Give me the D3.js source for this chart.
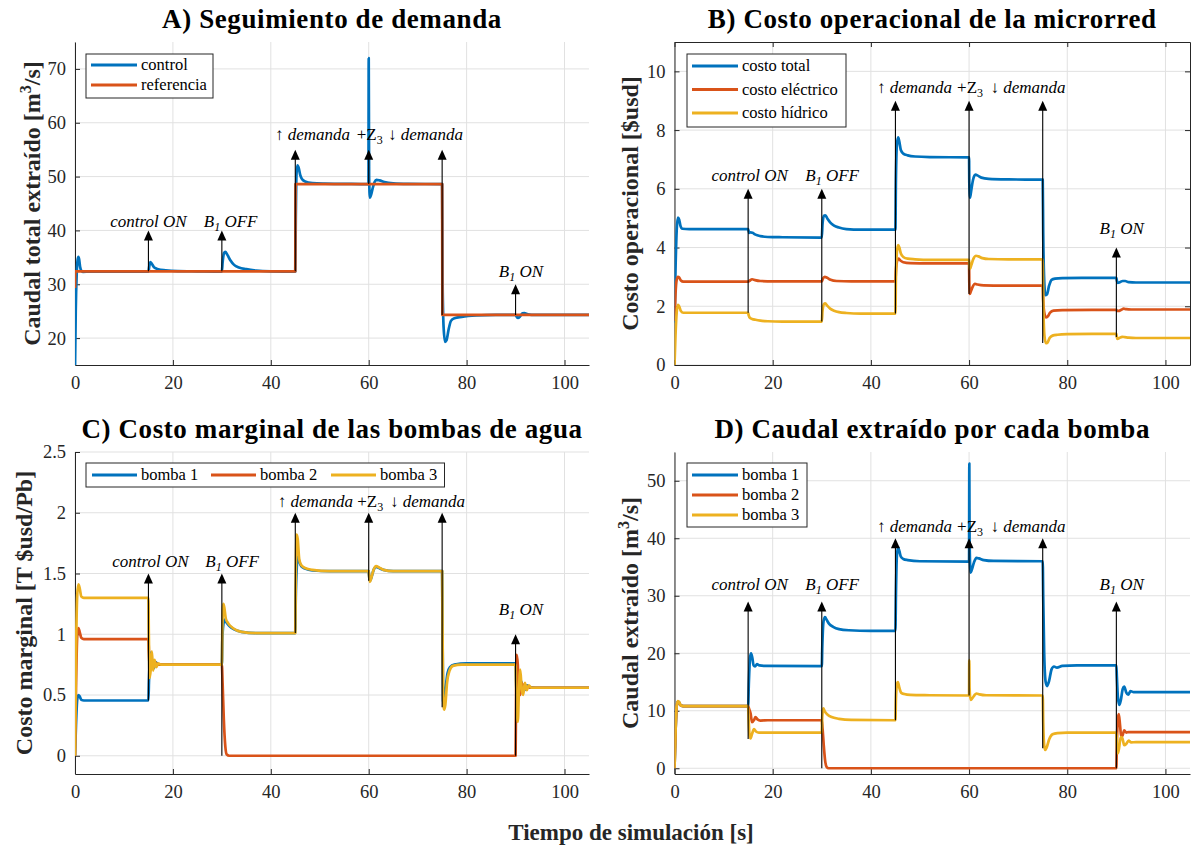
<!DOCTYPE html>
<html>
<head>
<meta charset="utf-8">
<script src="https://cdn.jsdelivr.net/npm/d3@7"></script>
<style>
  body { margin: 0; background: #fff; }
  svg { display: block; }
</style>
</head>
<body>
<svg id="fig" width="1195" height="849"></svg>
<script>
// ---------------- Data ----------------
// time axis ticks (s)
const timeTicks = [0, 20, 40, 60, 80, 100];

// A) total extracted flow [m3/s]  -> [t, value]
const demandaControl = [
  [0,14],[0.15,25],[0.35,32],[0.55,34.6],[0.7,35.1],[0.85,34.6],[1.05,33.2],[1.3,32.5],[1.6,32.3],[3,32.35],
  [15,32.35],[15.15,33.2],[15.4,34.1],[15.7,33.8],[16.2,33.1],[17,32.8],[18.5,32.6],[21,32.45],[25,32.4],
  [30,32.35],[30.15,34],[30.45,35.8],[30.7,36],[31.1,35.5],[31.7,34.5],[32.5,33.6],[33.5,33.1],[35,32.8],[37,32.55],[40,32.4],
  [45,32.35],[45.1,42],[45.25,50.5],[45.45,52.1],[45.7,51.6],[46,50.3],[46.4,49.5],[47,49.1],[48.5,48.8],[51,48.7],[55,48.65],
  [59.95,48.6],[60,72],[60.08,50],[60.25,46.1],[60.45,46.5],[60.8,47.8],[61.2,49],[61.6,49.4],[62.2,49.3],[63.2,49.0],[65,48.75],[68,48.65],
  [75,48.6],[75.1,30],[75.3,22],[75.6,19.3],[75.9,19.6],[76.3,21.5],[76.8,23.2],[77.5,23.7],[79,23.95],[82,24.2],[86,24.3],
  [90,24.3],[90.2,24],[90.5,23.75],[90.9,24.0],[91.4,24.6],[91.8,24.65],[92.5,24.4],[94,24.3],[105,24.3]
];
const demandaReferencia = [
  [0,29.3],[0.05,32.4],[45,32.4],[45.05,48.6],[75,48.6],[75.05,24.3],[105,24.3]
];

// B) operational cost [$usd]
const costoTotal = [
  [0,1.45],[0.2,3.2],[0.45,4.6],[0.7,5.02],[0.95,4.95],[1.2,4.75],[1.6,4.64],[3,4.63],
  [15,4.63],[15.2,4.5],[15.5,4.52],[15.9,4.5],[16.5,4.44],[17.5,4.39],[19,4.36],[22,4.35],
  [30,4.34],[30.15,4.8],[30.45,5.08],[30.7,5.1],[31.1,5.0],[31.7,4.86],[32.5,4.75],[33.5,4.68],[35,4.63],[38,4.61],
  [45,4.61],[45.1,6.3],[45.3,7.5],[45.55,7.75],[45.8,7.6],[46.1,7.32],[46.6,7.2],[47.5,7.14],[49,7.1],[52,7.08],
  [60,7.07],[60.05,6.2],[60.2,5.7],[60.4,5.9],[60.8,6.3],[61.3,6.48],[61.8,6.45],[62.5,6.38],[64,6.34],[68,6.32],
  [75,6.31],[75.1,4.5],[75.3,2.9],[75.55,2.38],[75.85,2.4],[76.3,2.7],[76.8,2.9],[77.5,2.94],[79,2.96],[83,2.97],
  [90,2.97],[90.1,2.88],[90.3,2.8],[90.7,2.82],[91.3,2.86],[91.8,2.86],[92.5,2.82],[94,2.81],[105,2.81]
];
const costoElectrico = [
  [0,1.5],[0.2,2.4],[0.45,2.9],[0.7,3.0],[0.95,2.98],[1.3,2.88],[1.8,2.84],[3,2.84],
  [15,2.84],[15.3,2.87],[15.8,2.92],[16.4,2.89],[17.5,2.86],[20,2.85],
  [30,2.85],[30.2,2.93],[30.6,3.0],[31.1,2.97],[31.8,2.9],[33,2.86],[36,2.85],
  [45,2.85],[45.1,3.2],[45.35,3.55],[45.6,3.62],[46,3.56],[46.6,3.5],[48,3.47],[52,3.46],
  [60,3.46],[60.05,2.8],[60.15,2.42],[60.35,2.5],[60.7,2.65],[61.2,2.76],[61.7,2.74],[63,2.71],[67,2.7],
  [75,2.7],[75.1,2.2],[75.35,1.75],[75.65,1.62],[76,1.65],[76.5,1.78],[77.2,1.85],[79,1.87],[85,1.88],
  [90,1.88],[90.15,1.84],[90.4,1.84],[91,1.88],[91.5,1.92],[92,1.9],[93,1.89],[105,1.89]
];
const costoHidrico = [
  [0,0],[0.2,1.0],[0.45,1.8],[0.7,2.05],[0.95,2.0],[1.3,1.84],[1.8,1.78],[3,1.78],
  [15,1.78],[15.1,1.7],[15.4,1.6],[15.8,1.57],[16.5,1.54],[17.5,1.51],[19,1.49],[22,1.48],
  [30,1.48],[30.15,1.85],[30.45,2.08],[30.7,2.1],[31.1,2.02],[31.7,1.92],[32.5,1.85],[33.5,1.8],[35,1.77],[38,1.75],
  [45,1.75],[45.1,3.0],[45.3,3.85],[45.55,4.08],[45.8,4.0],[46.1,3.8],[46.6,3.68],[47.5,3.62],[49,3.6],[52,3.58],
  [60,3.58],[60.05,3.4],[60.2,3.27],[60.45,3.4],[60.9,3.62],[61.4,3.72],[61.9,3.7],[62.7,3.64],[64,3.61],[68,3.6],
  [75,3.6],[75.1,2.2],[75.35,1.0],[75.65,0.74],[75.95,0.76],[76.4,0.92],[77,1.0],[78,1.03],[80,1.05],[85,1.06],
  [90,1.06],[90.1,0.95],[90.25,0.89],[90.6,0.92],[91.2,0.96],[91.7,0.95],[92.5,0.93],[94,0.92],[105,0.92]
];

// C) marginal cost of the water pumps [T $usd/Pb]
const marginalBomba1 = [
  [0,0],[0.2,0.25],[0.45,0.46],[0.7,0.5],[0.95,0.49],[1.3,0.46],[1.8,0.455],[3,0.455],
  [15,0.455],[15.1,0.6],[15.3,0.8],[15.5,0.85],[15.75,0.78],[16.1,0.72],[16.5,0.77],[17,0.75],[18,0.75],
  [30,0.75],[30.1,0.95],[30.3,1.08],[30.55,1.12],[30.9,1.1],[31.5,1.07],[32.5,1.04],[34,1.02],[37,1.01],
  [45,1.01],[45.1,1.3],[45.3,1.55],[45.5,1.64],[45.8,1.6],[46.2,1.56],[47,1.54],[48.5,1.525],[52,1.52],
  [60,1.52],[60.05,1.49],[60.25,1.44],[60.5,1.46],[61,1.53],[61.5,1.555],[62.1,1.545],[63,1.53],[65,1.52],
  [75,1.52],[75.05,1.2],[75.2,0.45],[75.4,0.43],[75.7,0.55],[76.1,0.68],[76.6,0.73],[77.5,0.75],[80,0.76],
  [90,0.76],[90.1,0.62],[90.35,0.45],[90.65,0.52],[91,0.62],[91.4,0.58],[91.8,0.54],[92.3,0.58],[92.8,0.565],[94,0.56],[105,0.56]
];
const marginalBomba2 = [
  [0,0],[0.2,0.55],[0.45,0.98],[0.7,1.05],[0.95,1.02],[1.3,0.97],[1.8,0.96],[3,0.96],
  [15,0.96],[15.1,0.85],[15.3,0.72],[15.55,0.8],[15.9,0.74],[16.4,0.765],[17,0.75],[18,0.75],
  [30,0.75],[30.15,0.6],[30.4,0.3],[30.7,0.08],[31.0,0.01],[31.5,0],
  [90,0],[90.1,0.5],[90.25,0.83],[90.45,0.75],[90.7,0.5],[90.95,0.5],[91.2,0.6],[91.5,0.58],[91.9,0.55],[92.4,0.57],[93,0.56],[105,0.56]
];
const marginalBomba3 = [
  [0,0],[0.2,0.8],[0.45,1.32],[0.7,1.41],[0.95,1.38],[1.3,1.31],[1.8,1.3],[3,1.3],
  [15,1.3],[15.08,1.0],[15.25,0.64],[15.45,0.7],[15.7,0.86],[15.95,0.7],[16.25,0.79],[16.6,0.73],[17,0.76],[17.6,0.75],
  [30,0.75],[30.1,1.05],[30.3,1.25],[30.5,1.22],[30.8,1.13],[31.3,1.09],[32.3,1.05],[34,1.02],[37,1.01],
  [45,1.01],[45.1,1.5],[45.3,1.82],[45.5,1.78],[45.8,1.62],[46.2,1.57],[47,1.545],[48.5,1.53],[52,1.52],
  [60,1.52],[60.05,1.49],[60.25,1.43],[60.5,1.46],[61,1.53],[61.5,1.56],[62.1,1.55],[63,1.53],[65,1.52],
  [75,1.52],[75.05,1.2],[75.2,0.5],[75.4,0.38],[75.65,0.42],[76,0.6],[76.5,0.7],[77.2,0.74],[79,0.75],
  [90,0.75],[90.1,0.6],[90.25,0.4],[90.45,0.28],[90.7,0.55],[90.95,0.71],[91.25,0.55],[91.55,0.5],[91.9,0.6],[92.3,0.54],[92.7,0.58],[93.2,0.56],[105,0.56]
];

// D) flow extracted by each pump [m3/s]
const caudalBomba1 = [
  [0,0],[0.2,6],[0.45,10.8],[0.7,11.6],[0.95,11.4],[1.3,10.9],[1.8,10.8],[3,10.8],
  [15,10.8],[15.15,15],[15.4,19.3],[15.6,20.0],[15.85,19.2],[16.1,17.9],[16.4,17.7],[16.8,18.1],[17.3,17.9],[18.5,17.8],
  [30,17.75],[30.1,21],[30.35,25.5],[30.65,26.3],[31,25.8],[31.5,25.1],[32.3,24.6],[33.5,24.2],[35.5,24],[40,23.9],
  [45,23.9],[45.1,30],[45.3,37],[45.55,38.4],[45.8,37.8],[46.1,36.8],[46.6,36.4],[47.5,36.2],[50,36.0],
  [60,35.95],[60.05,53],[60.1,40],[60.3,34.0],[60.55,34.5],[61,35.8],[61.5,36.6],[62,36.5],[63,36.2],[65,36.05],
  [75,36],[75.1,30],[75.3,20],[75.6,15],[75.9,14.3],[76.3,15.2],[76.8,17.2],[77.3,17.7],[77.9,17.5],[79,17.8],[82,17.9],
  [90,17.9],[90.1,16],[90.3,12.5],[90.6,11],[90.9,11.8],[91.3,13.8],[91.6,14.2],[92.0,13.2],[92.4,12.8],[92.9,13.4],[93.5,13.25],[105,13.25]
];
const caudalBomba2 = [
  [0,0],[0.2,6],[0.45,10.8],[0.7,11.6],[0.95,11.4],[1.3,10.9],[1.8,10.8],[3,10.8],
  [15,10.8],[15.2,10.3],[15.5,9.5],[15.8,8.0],[16.2,8.4],[16.5,8.9],[16.9,8.5],[17.5,8.3],[19,8.35],
  [30,8.35],[30.15,7],[30.4,4],[30.7,1.2],[31,0.2],[31.4,0],
  [90,0],[90.1,4],[90.3,8.5],[90.5,9.4],[90.75,7.5],[91.0,5.4],[91.3,5.8],[91.6,6.6],[92,6.2],[92.5,6.3],[93.5,6.3],[105,6.3]
];
const caudalBomba3 = [
  [0,0],[0.2,6],[0.45,10.9],[0.7,11.7],[0.95,11.5],[1.3,10.9],[1.8,10.8],[3,10.8],
  [15,10.8],[15.1,8.5],[15.3,5.6],[15.5,5.2],[15.8,6],[16.2,6.8],[16.6,6.4],[17.2,6.2],[18.5,6.2],
  [30,6.2],[30.1,9.0],[30.3,10.4],[30.6,9.9],[31.2,9.3],[32,8.9],[33.5,8.6],[36,8.4],
  [45,8.35],[45.1,12],[45.3,14.6],[45.5,15.0],[45.8,14.0],[46.2,13.1],[46.8,12.9],[48,12.75],[52,12.7],
  [60,12.65],[60.04,18.8],[60.1,14],[60.3,11.9],[60.6,12.1],[61.1,12.7],[61.5,13.0],[62.1,12.85],[63.5,12.7],
  [75,12.65],[75.1,8],[75.3,4],[75.5,3.2],[75.8,3.6],[76.3,5.0],[77,5.9],[78,6.1],[80,6.2],
  [90,6.2],[90.1,4.5],[90.3,2.6],[90.55,3.5],[90.9,5.4],[91.2,5.3],[91.6,4.0],[92,4.2],[92.5,4.8],[93,4.5],[94,4.55],[105,4.55]
];

// y-axis ticks per panel
const ticksA = [20, 30, 40, 50, 60, 70];
const ticksB = [0, 2, 4, 6, 8, 10];
const ticksC = [0, 0.5, 1, 1.5, 2, 2.5];
const ticksD = [0, 10, 20, 30, 40, 50];

// event annotations: [kind, time, arrow tail value, arrow tip value, label x, label y]
const eventosA = [
  ["control", 15, 32.4, 40, 15.0, 40.7],
  ["b1off",   30, 32.4, 40, 31.8, 40.7],
  ["up",      45, 32.4, 55, 48.5, 56.8],
  ["z3",      60, 48.6, 55, 60.2, 56.8],
  ["down",    75, 24.3, 55, 71.6, 56.8],
  ["b1on",    90, 24.3, 30, 91.1, 31.4]
];
const eventosB = [
  ["control", 15, 1.78, 6, 15.3, 6.28],
  ["b1off",   30, 1.48, 6, 32.1, 6.28],
  ["up",      45, 1.75, 9, 48.9, 9.28],
  ["z3",      60, 2.42, 9, 60.2, 9.28],
  ["down",    75, 0.75, 9, 72.0, 9.28],
  ["b1on",    90, 0.95, 4, 91.1, 4.46]
];
const eventosC = [
  ["control", 15, 0.455, 1.5, 15.4, 1.557],
  ["b1off",   30, 0,     1.5, 32.1, 1.557],
  ["up",      45, 1.01,  2.0, 49.1, 2.05],
  ["z3",      60, 1.44,  2.0, 60.3, 2.05],
  ["down",    75, 0.4,   2.0, 72.0, 2.05],
  ["b1on",    90, 0,     1.0, 91.1, 1.16]
];
const eventosD = [
  ["control", 15, 5.1,  29, 15.3, 31.0],
  ["b1off",   30, 0,    29, 32.1, 31.0],
  ["up",      45, 8.35, 40, 48.9, 41.1],
  ["z3",      60, 12.65,40, 60.2, 41.1],
  ["down",    75, 3.5,  40, 72.0, 41.1],
  ["b1on",    90, 0,    29, 91.1, 31.0]
];

// ---------------- Styling ----------------
const BLUE = "#0072BD", RED = "#D95319", YELLOW = "#EDB120";
const AXC = "#262626", GRID = "#e1e1e1";
const SERIF = "'Liberation Serif', 'DejaVu Serif', serif";

const svg = d3.select("#fig");
svg.append("rect").attr("width", 1195).attr("height", 849).attr("fill", "#fff");

const panels = [
  {
    key: "A", left: 75, right: 589, top: 42, bottom: 365,
    yDomain: [15, 75], yTicks: ticksA, box: false,
    title: "A) Seguimiento de demanda", ylabel: ["Caudal total extraído [m", "3", "/s]"], ylabelX: 40,
    series: [{ d: demandaControl, c: BLUE, n: "control" }, { d: demandaReferencia, c: RED, n: "referencia", linear: true }],
    eventos: eventosA,
    legend: { x: 86, y: 54, w: 127, rows: [65, 85], h: 44 }
  },
  {
    key: "B", left: 674.5, right: 1190, top: 42, bottom: 365,
    yDomain: [0, 11], yTicks: ticksB, box: true,
    title: "B) Costo operacional de la microrred", ylabel: ["Costo operacional [$usd]"], ylabelX: 638,
    series: [{ d: costoTotal, c: BLUE, n: "costo total" }, { d: costoElectrico, c: RED, n: "costo eléctrico" }, { d: costoHidrico, c: YELLOW, n: "costo hídrico" }],
    eventos: eventosB,
    legend: { x: 687, y: 54, w: 159, rows: [66, 89.5, 113], h: 73 }
  },
  {
    key: "C", left: 75, right: 589, top: 452, bottom: 774,
    yDomain: [-0.15, 2.5], yTicks: ticksC, box: false,
    title: "C) Costo marginal de las bombas de agua", ylabel: ["Costo marginal [T $usd/Pb]"], ylabelX: 32,
    series: [{ d: marginalBomba1, c: BLUE, n: "bomba 1" }, { d: marginalBomba2, c: RED, n: "bomba 2" }, { d: marginalBomba3, c: YELLOW, n: "bomba 3" }],
    eventos: eventosC,
    legendH: { x: 86, y: 463, w: 358.5, h: 24, cols: [92, 211, 331] }
  },
  {
    key: "D", left: 674.5, right: 1190, top: 452, bottom: 774,
    yDomain: [-1, 55], yTicks: ticksD, box: false,
    title: "D) Caudal extraído por cada bomba", ylabel: ["Caudal extraído [m", "3", "/s]"], ylabelX: 638,
    series: [{ d: caudalBomba1, c: BLUE, n: "bomba 1" }, { d: caudalBomba2, c: RED, n: "bomba 2" }, { d: caudalBomba3, c: YELLOW, n: "bomba 3" }],
    eventos: eventosD,
    legend: { x: 687, y: 463, w: 120, rows: [475, 495, 515], h: 64 }
  }
];

// rich-text event labels
function drawLabel(g, kind, x, y) {
  const t = g.append("text").attr("x", x).attr("y", y).attr("text-anchor", "middle")
    .attr("font-family", SERIF).attr("font-size", 17).attr("fill", "#000");
  const it = (s) => t.append("tspan").attr("font-style", "italic").text(s);
  const rm = (s) => t.append("tspan").text(s);
  const sub = (s) => t.append("tspan").attr("font-size", 12).attr("dy", 4).attr("font-style", "italic").text(s);
  if (kind === "control") { it("control ON"); }
  else if (kind === "b1off") { it("B"); sub("1"); t.append("tspan").attr("dy", -4).attr("font-style", "italic").text("\u00a0OFF"); }
  else if (kind === "b1on") { it("B"); sub("1"); t.append("tspan").attr("dy", -4).attr("font-style", "italic").text("\u00a0ON"); }
  else if (kind === "up") { rm("\u2191 "); it("demanda"); }
  else if (kind === "down") { rm("\u2193 "); it("demanda"); }
  else if (kind === "z3") { rm("+Z"); t.append("tspan").attr("font-size", 12).attr("dy", 4).text("3"); }
}

panels.forEach(p => {
  const x = d3.scaleLinear().domain([0, 105]).range([p.left, p.right]);
  const y = d3.scaleLinear().domain(p.yDomain).range([p.bottom, p.top]);
  const g = svg.append("g");

  // grid
  g.append("g").selectAll("line").data(timeTicks).join("line")
    .attr("x1", d => x(d)).attr("x2", d => x(d)).attr("y1", p.top).attr("y2", p.bottom)
    .attr("stroke", GRID).attr("stroke-width", 1);
  g.append("g").selectAll("line").data(p.yTicks).join("line")
    .attr("x1", p.left).attr("x2", p.right).attr("y1", d => y(d)).attr("y2", d => y(d))
    .attr("stroke", GRID).attr("stroke-width", 1);

  // axes (inward ticks)
  const xAxis = d3.axisBottom(x).tickValues(timeTicks).tickSizeInner(-5).tickSizeOuter(0).tickPadding(11);
  const yAxis = d3.axisLeft(y).tickValues(p.yTicks).tickSizeInner(-5).tickSizeOuter(0).tickPadding(9)
    .tickFormat(d => String(d));
  const gx = g.append("g").attr("transform", `translate(0,${p.bottom})`).call(xAxis);
  const gy = g.append("g").attr("transform", `translate(${p.left},0)`).call(yAxis);
  [gx, gy].forEach(a => {
    a.select(".domain").attr("stroke", AXC).attr("stroke-width", 1);
    a.selectAll(".tick line").attr("stroke", AXC);
    a.selectAll(".tick text").attr("font-family", SERIF).attr("font-size", 18.5).attr("fill", AXC);
  });
  gx.selectAll(".tick text").attr("dy", "0.71em");
  if (p.box) {
    const gt = g.append("g").attr("transform", `translate(0,${p.top})`)
      .call(d3.axisTop(x).tickValues(timeTicks).tickSizeInner(-5).tickSizeOuter(0).tickFormat(""));
    const gr = g.append("g").attr("transform", `translate(${p.right},0)`)
      .call(d3.axisRight(y).tickValues(p.yTicks).tickSizeInner(-5).tickSizeOuter(0).tickFormat(""));
    [gt, gr].forEach(a => { a.select(".domain").attr("stroke", AXC); a.selectAll(".tick line").attr("stroke", AXC); });
  }

  // series
  const clipId = "clip" + p.key;
  svg.append("clipPath").attr("id", clipId).append("rect")
    .attr("x", p.left).attr("y", p.top).attr("width", p.right - p.left).attr("height", p.bottom - p.top);
  const lines = g.append("g").attr("clip-path", `url(#${clipId})`);
  p.series.forEach(s => {
    const gen = d3.line().x(d => x(d[0])).y(d => y(d[1]))
      .curve(s.linear ? d3.curveLinear : d3.curveMonotoneX);
    lines.append("path").attr("d", gen(s.d)).attr("fill", "none").attr("stroke", s.c)
      .attr("stroke-width", 2.7).attr("stroke-linejoin", "round").attr("stroke-linecap", "butt");
  });

  // event arrows
  const ev = g.append("g");
  p.eventos.forEach(([kind, t, from, to, lx, ly]) => {
    const px = x(t), yTip = y(to), yTail = y(from);
    ev.append("line").attr("x1", px).attr("x2", px).attr("y1", yTail).attr("y2", yTip + 8)
      .attr("stroke", "#000").attr("stroke-width", 1.1);
    ev.append("path").attr("d", `M${px},${yTip} L${px - 4.5},${yTip + 10} L${px + 4.5},${yTip + 10} Z`).attr("fill", "#000");
    drawLabel(ev, kind, x(lx), y(ly));
  });

  // title
  svg.append("text").attr("x", (p.left + p.right) / 2).attr("y", p.top - 14)
    .attr("text-anchor", "middle").attr("font-family", SERIF).attr("font-weight", "bold")
    .attr("font-size", 27).attr("letter-spacing", 0.6).attr("fill", "#000").text(p.title);

  // y label
  const yl = svg.append("text")
    .attr("transform", `translate(${p.ylabelX},${(p.top + p.bottom) / 2}) rotate(-90)`)
    .attr("text-anchor", "middle").attr("font-family", SERIF).attr("font-weight", "bold")
    .attr("font-size", 24).attr("fill", AXC);
  yl.append("tspan").text(p.ylabel[0]);
  if (p.ylabel.length > 1) {
    yl.append("tspan").attr("font-size", 16).attr("dy", -9).text(p.ylabel[1]);
    yl.append("tspan").attr("dy", 9).text(p.ylabel[2]);
  }

  // legends
  if (p.legend) {
    const L = p.legend;
    const lg = svg.append("g");
    lg.append("rect").attr("x", L.x).attr("y", L.y).attr("width", L.w).attr("height", L.h)
      .attr("fill", "#fff").attr("stroke", AXC).attr("stroke-width", 1);
    p.series.forEach((s, i) => {
      lg.append("line").attr("x1", L.x + 5).attr("x2", L.x + 51).attr("y1", L.rows[i]).attr("y2", L.rows[i])
        .attr("stroke", s.c).attr("stroke-width", 3);
      lg.append("text").attr("x", L.x + 55).attr("y", L.rows[i]).attr("dy", "0.33em")
        .attr("font-family", SERIF).attr("font-size", 16.5).attr("fill", "#000").text(s.n);
    });
  }
  if (p.legendH) {
    const L = p.legendH;
    const lg = svg.append("g");
    lg.append("rect").attr("x", L.x).attr("y", L.y).attr("width", L.w).attr("height", L.h)
      .attr("fill", "#fff").attr("stroke", AXC).attr("stroke-width", 1);
    const cy = L.y + L.h / 2;
    p.series.forEach((s, i) => {
      lg.append("line").attr("x1", L.cols[i]).attr("x2", L.cols[i] + 45).attr("y1", cy).attr("y2", cy)
        .attr("stroke", s.c).attr("stroke-width", 3);
      lg.append("text").attr("x", L.cols[i] + 49).attr("y", cy).attr("dy", "0.33em")
        .attr("font-family", SERIF).attr("font-size", 16.5).attr("fill", "#000").text(s.n);
    });
  }
});

// shared x label
svg.append("text").attr("x", 631).attr("y", 840).attr("text-anchor", "middle")
  .attr("font-family", SERIF).attr("font-weight", "bold").attr("font-size", 23).attr("fill", AXC)
  .text("Tiempo de simulación [s]");
</script>
</body>
</html>
